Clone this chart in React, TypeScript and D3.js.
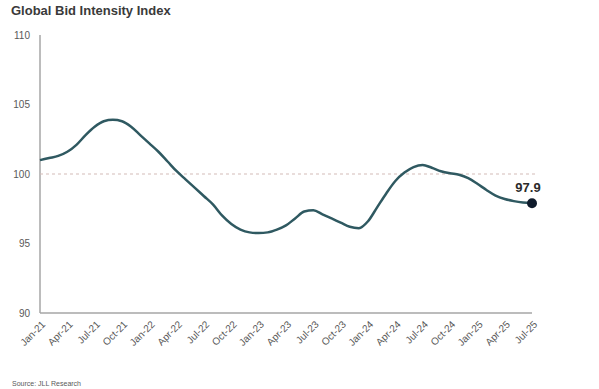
import React, { useEffect, useRef } from "react";
import * as d3 from "d3";

// monthly index values, Jan-21 .. Jul-25
const months: string[] = d3
  .timeMonths(new Date(2021, 0, 1), new Date(2025, 7, 1))
  .map((d) => d3.timeFormat("%b-%y")(d));

const bidIndex: number[] = [
  101.0, 101.15, 101.3, 101.6, 102.1, 102.8, 103.4, 103.8, 103.9, 103.8, 103.4, 102.8,
  102.2, 101.6, 100.9, 100.2, 99.6, 99.0, 98.4, 97.8, 97.0, 96.4, 96.0, 95.8,
  95.75, 95.8, 96.0, 96.3, 96.8, 97.3, 97.4, 97.1, 96.8, 96.5, 96.2, 96.1,
  96.6, 97.6, 98.6, 99.5, 100.1, 100.5, 100.65, 100.45, 100.2, 100.05, 99.95, 99.7,
  99.3, 98.85, 98.45, 98.2, 98.05, 97.95, 97.9,
];

const tickLabels: string[] = [
  "Jan-21", "Apr-21", "Jul-21", "Oct-21", "Jan-22", "Apr-22", "Jul-22", "Oct-22", "Jan-23",
  "Apr-23", "Jul-23", "Oct-23", "Jan-24", "Apr-24", "Jul-24", "Oct-24", "Jan-25", "Apr-25", "Jul-25",
];

const yTicks: number[] = [90, 95, 100, 105, 110];
const baseline = 100;
const lastLabel = "97.9";

const App: React.FC = () => {
  const svgRef = useRef<SVGSVGElement | null>(null);

  useEffect(() => {
    if (!svgRef.current) return;
    const width = 599;
    const height = 389;
    const svg = d3.select(svgRef.current);
    svg.selectAll("*").remove();
    svg.attr("width", width).attr("height", height);

    const margin = { top: 35, right: 67, bottom: 76, left: 40 };

    const x = d3
      .scalePoint<string>()
      .domain(months)
      .range([margin.left, width - margin.right]);
    const y = d3
      .scaleLinear()
      .domain([90, 110])
      .range([height - margin.bottom, margin.top]);

    // title
    svg
      .append("text")
      .attr("x", 11)
      .attr("y", 15)
      .attr("font-family", "Liberation Sans, Arial, sans-serif")
      .attr("font-size", 13)
      .attr("font-weight", "bold")
      .attr("fill", "#3a3a3a")
      .text("Global Bid Intensity Index");

    // y tick labels
    svg
      .selectAll(".ytick")
      .data(yTicks)
      .enter()
      .append("text")
      .attr("x", 30)
      .attr("y", (d) => y(d))
      .attr("dy", "0.35em")
      .attr("text-anchor", "end")
      .attr("font-family", "Liberation Sans, Arial, sans-serif")
      .attr("font-size", 10)
      .attr("fill", "#595959")
      .text((d) => d);

    // axes lines
    svg
      .append("line")
      .attr("x1", margin.left)
      .attr("x2", margin.left)
      .attr("y1", y(110))
      .attr("y2", y(90))
      .attr("stroke", "#a6a6a6")
      .attr("stroke-width", 1.5);
    svg
      .append("line")
      .attr("x1", margin.left)
      .attr("x2", x(months[months.length - 1])!)
      .attr("y1", y(90))
      .attr("y2", y(90))
      .attr("stroke", "#a6a6a6")
      .attr("stroke-width", 1.5);

    // x tick labels
    svg
      .selectAll(".xtick")
      .data(tickLabels)
      .enter()
      .append("text")
      .attr("transform", (d) => `translate(${x(d)! + 6},${y(90) + 12}) rotate(-45)`)
      .attr("text-anchor", "end")
      .attr("font-family", "Liberation Sans, Arial, sans-serif")
      .attr("font-size", 10)
      .attr("fill", "#595959")
      .text((d) => d);

    // 100 reference line
    svg
      .append("line")
      .attr("x1", margin.left)
      .attr("x2", x(months[months.length - 1])! + 4)
      .attr("y1", y(baseline))
      .attr("y2", y(baseline))
      .attr("stroke", "#d3bcb8")
      .attr("stroke-width", 1.2)
      .attr("stroke-dasharray", "3,3");

    // index line
    const line = d3
      .line<number>()
      .x((_, i) => x(months[i])!)
      .y((d) => y(d))
      .curve(d3.curveMonotoneX);

    svg
      .append("path")
      .datum(bidIndex)
      .attr("d", line)
      .attr("fill", "none")
      .attr("stroke", "#2f5961")
      .attr("stroke-width", 2.5);

    // last point
    const lastX = x(months[months.length - 1])!;
    const lastY = y(bidIndex[bidIndex.length - 1]);
    svg
      .append("circle")
      .attr("cx", lastX)
      .attr("cy", lastY)
      .attr("r", 5)
      .attr("fill", "#0f1b2b");
    svg
      .append("text")
      .attr("x", lastX - 4)
      .attr("y", lastY - 11)
      .attr("text-anchor", "middle")
      .attr("font-family", "Liberation Sans, Arial, sans-serif")
      .attr("font-size", 13)
      .attr("font-weight", "bold")
      .attr("fill", "#2a2a2a")
      .text(lastLabel);

    // source
    svg
      .append("text")
      .attr("x", 12)
      .attr("y", 386)
      .attr("font-family", "Liberation Sans, Arial, sans-serif")
      .attr("font-size", 7)
      .attr("fill", "#595959")
      .text("Source: JLL Research");
  }, []);

  return (
    <div style={{ position: "fixed", top: 0, left: 0, background: "#fff" }}>
      <svg ref={svgRef}></svg>
    </div>
  );
};

export default App;
